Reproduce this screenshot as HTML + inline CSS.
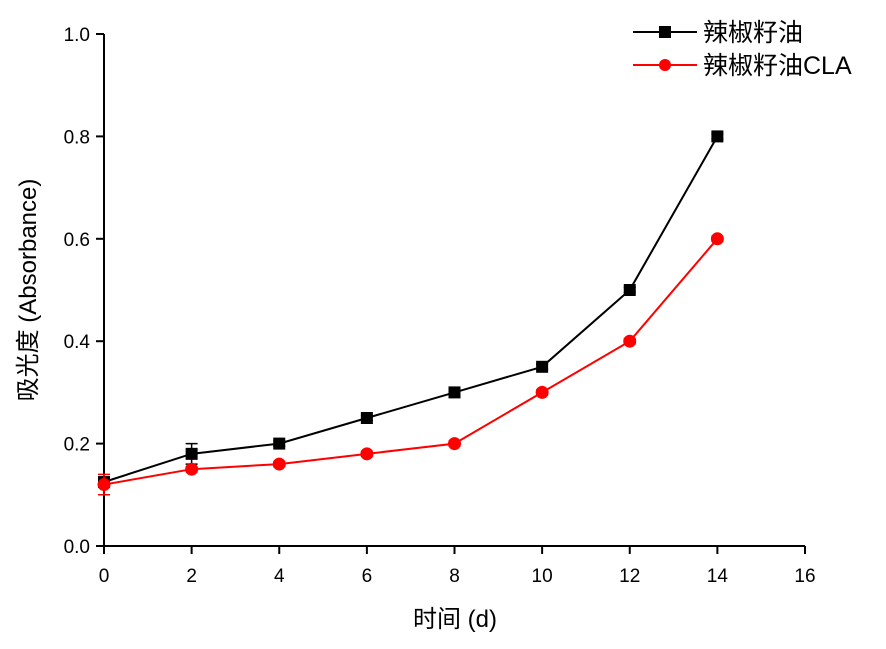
<!DOCTYPE html>
<html><head><meta charset="utf-8"><style>
body{margin:0;background:#fff;}
svg text{font-family:"Liberation Sans","Noto Sans CJK SC",sans-serif;fill:#000;}
</style></head><body>
<svg width="886" height="644" xmlns="http://www.w3.org/2000/svg">
<g id="axes"></g><g id="series"></g>
<g>
<line x1="633" y1="32" x2="697" y2="32" stroke="#000" stroke-width="2"/>
<rect x="659" y="26" width="12" height="12" fill="#000"/>
<text x="703" y="41" font-size="25">辣椒籽油</text>
<line x1="633" y1="65" x2="697" y2="65" stroke="#f00" stroke-width="2"/>
<circle cx="665" cy="65" r="6" fill="#f00"/>
<text x="703" y="74" font-size="25">辣椒籽油CLA</text>
</g>
<text x="455" y="627" font-size="24" text-anchor="middle">时间 (d)</text>
<text transform="translate(36,290) rotate(-90)" font-size="24" text-anchor="middle">吸光度 (Absorbance)</text>
</svg>
<script>
const days=[0,2,4,6,8,10,12,14];
const oil=[0.125,0.18,0.2,0.25,0.3,0.35,0.5,0.8];
const oilErr=[0.005,0.02,0.005,0.005,0.005,0.005,0.005,0.005];
const cla=[0.12,0.15,0.16,0.18,0.2,0.3,0.4,0.6];
const claErr=[0.02,0.005,0.005,0.005,0.005,0.005,0.005,0.005];
const xTicks=[0,2,4,6,8,10,12,14,16];
const yTicks=[0.0,0.2,0.4,0.6,0.8,1.0];
const NS="http://www.w3.org/2000/svg";
const X=v=>104+v*(805-104)/16;
const Y=v=>546-v*(546-34)/1.0;
function mk(t,a,p){const e=document.createElementNS(NS,t);for(const k in a)e.setAttribute(k,a[k]);p.appendChild(e);return e;}
const ax=document.getElementById('axes');
let l=mk('line',{x1:104,y1:546,x2:805,y2:546,stroke:'#000','stroke-width':2},ax);


l=mk('line',{x1:104,y1:547,x2:104,y2:34,stroke:'#000','stroke-width':2},ax);


xTicks.forEach(v=>{
 const t=mk('line',{x1:X(v),y1:546,x2:X(v),y2:554,stroke:'#000','stroke-width':2},ax);
 
 
 const s=mk('text',{x:X(v),y:582,'font-size':19,'text-anchor':'middle'},ax);s.textContent=v;
 
 
});
yTicks.forEach(v=>{
 const t=mk('line',{x1:96,y1:Y(v),x2:104,y2:Y(v),stroke:'#000','stroke-width':2},ax);
 
 
 const s=mk('text',{x:90,y:Y(v)+7,'font-size':19,'text-anchor':'end'},ax);s.textContent=v.toFixed(1);
 
 
});
const sg=document.getElementById('series');
function series(vals,errs,color,sq,name){
 const pl=mk('polyline',{points:days.map((d,i)=>X(d)+','+Y(vals[i])).join(' '),fill:'none',stroke:color,'stroke-width':2},sg);
 
 
 days.forEach((d,i)=>{
  const e=mk('path',{d:`M${X(d)-6},${Y(vals[i]+errs[i])}H${X(d)+6}M${X(d)},${Y(vals[i]+errs[i])}V${Y(vals[i]-errs[i])}M${X(d)-6},${Y(vals[i]-errs[i])}H${X(d)+6}`,stroke:color,'stroke-width':1.5,fill:'none'},sg);
  
  
  const m=sq?mk('rect',{x:X(d)-6,y:Y(vals[i])-6,width:12,height:12,fill:color},sg):mk('circle',{cx:X(d),cy:Y(vals[i]),r:6.5,fill:color},sg);
  
  
 });
}
series(oil,oilErr,'#000',true,'oil');
series(cla,claErr,'#f00',false,'cla');
</script>
</body></html>
